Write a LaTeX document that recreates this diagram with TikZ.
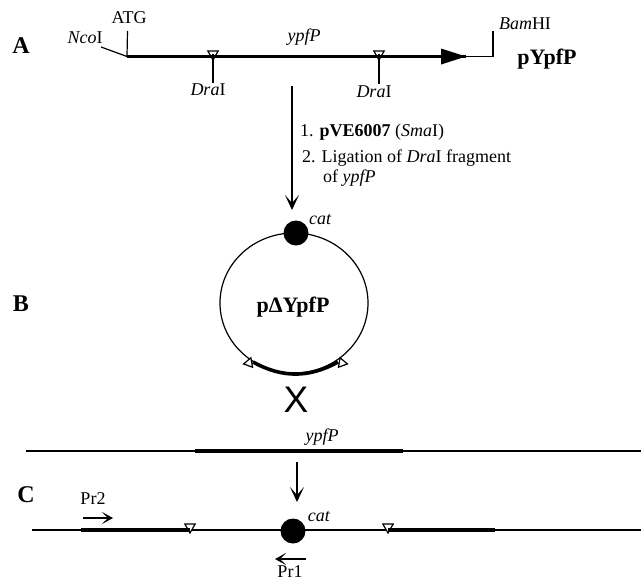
\documentclass[tikz,border=0pt]{standalone}
\usepackage{fontspec}
\setmainfont{Liberation Serif}
\newfontfamily\crossfont{Liberation Sans}
\usepackage{tikz}
\usetikzlibrary{arrows.meta,positioning,shapes.geometric,calc}
\newcommand{\gene}[1]{\textit{#1}}

\begin{document}
\begin{tikzpicture}[
 x=1pt, y=-1pt,
 txt/.style={inner sep=0pt, font=\fontsize{18}{20}\selectfont},
 panel/.style={inner sep=0pt, font=\fontsize{24}{26}\selectfont\bfseries},
 plasname/.style={inner sep=0pt, font=\fontsize{22}{24}\selectfont\bfseries},
 thin line/.style={line width=1.2pt},
 gene line/.style={line width=3.6pt},
 site/.style={draw, fill=white, line width=1.2pt, regular polygon, regular polygon sides=3, shape border rotate=180, minimum size=12pt, inner sep=0pt},
 dot/.style={circle, fill=black, minimum size=25pt, inner sep=0pt},
 arr/.style={-{Stealth[length=15pt,width=14pt,inset=8pt]}, line width=1.3pt},
 primer/.style={-{Stealth[length=11pt,width=12pt,inset=6pt]}, line width=1.2pt}
]
\useasboundingbox (0,0) rectangle (641,582);
% panel A
\node[panel] (labelA) at (21,46) {A};
\coordinate (atgbase) at (127,56.5);
\coordinate (atgtop) at (127.5,31);
\coordinate (ncotop) at (101,47);
\coordinate (bambase) at (493,56.5);
\coordinate (bamtop) at (493,31);
\coordinate (headend) at (466,56.5);
\coordinate (dra1end) at (213,83);
\coordinate (dra2end) at (379,84);
\node[txt] (atg) at (129,18) {ATG};
\node[txt] (nco) at (85,38) {\gene{Nco}I};
\node[txt] (ypfA) at (304,37) {\gene{ypfP}};
\node[txt] (bam) at (525,24) {\gene{Bam}HI};
\node[plasname] (pypfp) at (547,59) {pYpfP};
\node[txt] (dra1) at (208,90) {\gene{Dra}I};
\node[txt] (dra2) at (374,92) {\gene{Dra}I};
\node[site] (site1) at (213,54) {};
\node[site] (site2) at (379,54) {};
\draw[thin line] (atgtop) -- (atgbase);
\draw[thin line] (ncotop) -- (atgbase);
\draw[gene line] (atgbase) -- (headend);
\fill (headend) -- ++(-25,-8) -- ++(0,16) -- cycle;
\draw[thin line] (headend) -- (bambase) -- (bamtop);
\draw[thin line] (site1.center) -- (dra1end);
\draw[thin line] (site2.center) -- (dra2end);

% arrow to plasmid
\coordinate (stepstart) at (292,86);
\coordinate (stepend) at (292,210);
\draw[arr] (stepstart) -- (stepend);
\node[txt, anchor=west] (step1) at (300,132) {1. \textbf{pVE6007} (\gene{Sma}I)};
\node[txt, anchor=west] (step2) at (302,158) {2. Ligation of \gene{Dra}I fragment};
\node[txt, anchor=west] (step3) at (323,178) {of \gene{ypfP}};

% panel B
\node[panel] (labelB) at (21,304) {B};
\node[draw, ellipse, line width=1.2pt, minimum width=148pt, minimum height=140pt, inner sep=0pt] (plasmid) at (294,303) {};
\node[plasname] (pdelta) at (293,307) {pΔYpfP};
\node[dot] (catB) at (296,233) {};
\node[txt, anchor=west] (catBlabel) at (309,220) {\gene{cat}};
\coordinate (armL) at (253,362);
\coordinate (armR) at (338,362);
\node[site, minimum size=11pt, shape border rotate=100] (siteL) at (249,363) {};
\node[site, minimum size=11pt, shape border rotate=260] (siteR) at (342,363) {};
\draw[gene line] (armL) to[bend right=29] (armR);
\node[inner sep=0pt, font=\fontsize{37}{40}\selectfont\crossfont] (cross) at (296,400) {X};

% chromosome
\coordinate (chromL) at (26,451);
\coordinate (chromR) at (641,451);
\coordinate (ypfL) at (195,451);
\coordinate (ypfR) at (403,451);
\draw[thin line] (chromL) -- (chromR);
\draw[gene line] (ypfL) -- (ypfR);
\node[txt] (ypfB) at (322,437) {\gene{ypfP}};
\coordinate (intstart) at (297,462);
\coordinate (intend) at (297,502);
\draw[arr] (intstart) -- (intend);

% panel C
\node[panel] (labelC) at (26,495) {C};
\coordinate (intL) at (32,530);
\coordinate (intR) at (641,530);
\coordinate (leftL) at (81,530);
\coordinate (rightR) at (495,530);
\draw[thin line] (intL) -- (intR);
\node[site] (site3) at (190,527) {};
\node[site] (site4) at (388,527) {};
\draw[gene line] (leftL) -- (site3.center |- leftL);
\draw[gene line] (site4.center |- rightR) -- (rightR);
\node[dot] (catC) at (293,531) {};
\node[txt] (catClabel) at (319,517) {\gene{cat}};
\node[txt] (pr2) at (93,499) {Pr2};
\coordinate (pr2start) at (83,518);
\coordinate (pr2end) at (113,518);
\draw[primer] (pr2start) -- (pr2end);
\coordinate (pr1start) at (306,559);
\coordinate (pr1end) at (275,559);
\draw[primer] (pr1start) -- (pr1end);
\node[txt] (pr1) at (290,572) {Pr1};
\end{tikzpicture}
\end{document}
